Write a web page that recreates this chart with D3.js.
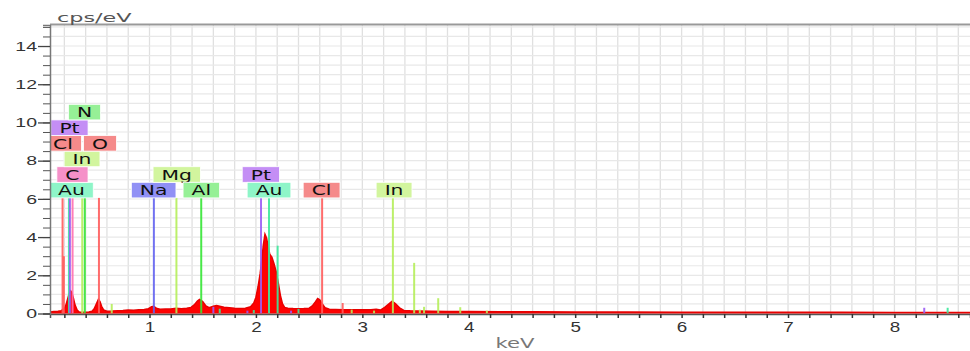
<!DOCTYPE html>
<html>
<head>
<meta charset="utf-8">
<script src="https://cdn.jsdelivr.net/npm/d3@7"></script>
<style>
  body { margin: 0; background: #fff; }
  svg { display: block; font-family: "DejaVu Sans", Verdana, sans-serif; }
</style>
</head>
<body>
<div id="chart"></div>
<script>
// spectrum outline (keV, cps/eV)
const energyKeV = [0.065, 0.10, 0.14, 0.17, 0.20, 0.215, 0.23, 0.245, 0.26, 0.27, 0.285, 0.30, 0.32, 0.34,
  0.37, 0.40, 0.43, 0.46, 0.48, 0.50, 0.52, 0.535, 0.55, 0.57, 0.60, 0.65, 0.70, 0.75, 0.80, 0.85, 0.90,
  0.95, 0.99, 1.02, 1.04, 1.07, 1.10, 1.15, 1.20, 1.25, 1.30, 1.35, 1.39, 1.42, 1.45, 1.47, 1.50, 1.53,
  1.56, 1.60, 1.63, 1.66, 1.70, 1.75, 1.80, 1.85, 1.90, 1.95, 1.98, 2.00, 2.02, 2.04, 2.055, 2.07, 2.085,
  2.10, 2.115, 2.13, 2.15, 2.17, 2.19, 2.21, 2.23, 2.25, 2.27, 2.30, 2.35, 2.40, 2.45, 2.50, 2.53, 2.56,
  2.58, 2.60, 2.62, 2.65, 2.69, 2.75, 2.82, 2.90, 3.00, 3.08, 3.13, 3.17, 3.21, 3.25, 3.28, 3.31, 3.35,
  3.39, 3.45, 3.55, 3.65, 3.80, 4.00, 4.30, 4.60, 5.00, 5.50, 6.00, 6.50, 7.00, 7.50, 8.00, 8.50, 8.71];
const countsCps = [0.08, 0.10, 0.12, 0.15, 0.25, 0.45, 0.75, 1.05, 1.18, 1.10, 0.80, 0.45, 0.18, 0.08,
  0.06, 0.06, 0.08, 0.12, 0.25, 0.50, 0.74, 0.62, 0.38, 0.18, 0.12, 0.13, 0.15, 0.16, 0.18, 0.17, 0.19,
  0.21, 0.25, 0.35, 0.38, 0.26, 0.22, 0.23, 0.24, 0.27, 0.25, 0.27, 0.32, 0.45, 0.65, 0.74, 0.62, 0.40,
  0.30, 0.38, 0.42, 0.38, 0.33, 0.30, 0.27, 0.26, 0.28, 0.35, 0.55, 0.85, 1.40, 2.10, 2.80, 3.60, 4.15,
  3.95, 3.50, 3.10, 2.95, 2.60, 2.20, 1.60, 0.95, 0.50, 0.32, 0.28, 0.26, 0.25, 0.26, 0.28, 0.40, 0.62,
  0.78, 0.72, 0.52, 0.30, 0.22, 0.21, 0.20, 0.20, 0.19, 0.20, 0.22, 0.18, 0.32, 0.50, 0.64, 0.52, 0.30,
  0.16, 0.14, 0.13, 0.12, 0.11, 0.10, 0.09, 0.09, 0.08, 0.08, 0.07, 0.07, 0.06, 0.06, 0.05, 0.05, 0.05];

// element marker lines
const markerKeV = [0.183, 0.195, 0.243, 0.252, 0.277, 0.368, 0.392, 0.525, 0.645, 1.041, 1.253, 1.486,
  1.60, 1.66, 1.92, 1.98, 2.048, 2.123, 2.204, 2.33, 2.40, 2.622, 2.815, 2.90, 3.11, 3.287, 3.487, 3.54,
  3.58, 3.713, 3.92, 4.17, 8.28, 8.50];
const markerTop = [6.05, 3.0, 6.05, 6.05, 6.05, 6.05, 6.05, 6.05, 0.5, 6.05, 6.05, 6.05,
  0.35, 0.25, 0.15, 0.18, 6.05, 6.05, 3.55, 0.15, 0.24, 6.05, 0.55, 0.2, 0.15, 6.05, 2.65, 0.2,
  0.35, 0.8, 0.33, 0.15, 0.3, 0.3];
const markerElement = ["Cl", "Cl", "Au", "Pt", "C", "In", "N", "O", "In", "Na", "Mg", "Al",
  "Pt", "Au", "Pt", "Au", "Pt", "Au", "Au", "Pt", "Au", "Cl", "Cl", "In", "In", "In", "In", "In",
  "In", "In", "In", "In", "Pt", "Au"];

// label boxes: element, centre (keV), stack row
const labelElement = ["Au", "C", "In", "Cl", "O", "Pt", "N", "Na", "Mg", "Al", "Pt", "Au", "Cl", "In"];
const labelKeV = [0.266, 0.276, 0.366, 0.187, 0.535, 0.248, 0.389, 1.039, 1.256, 1.487, 2.046, 2.123, 2.617, 3.298];
const labelRow = [0, 1, 2, 3, 3, 4, 5, 0, 1, 0, 1, 0, 0, 0];

const xTickLabels = [1, 2, 3, 4, 5, 6, 7, 8];
const yTickLabels = [0, 2, 4, 6, 8, 10, 12, 14];

const lineColor = { Cl: "#ff5c5c", O: "#ff5c5c", Au: "#3ee89c", Pt: "#9b5cf5", C: "#ff6fb0",
  In: "#b5ef5a", N: "#35e635", Na: "#6262f0", Mg: "#b5ef5a", Al: "#35e635" };
const boxColor = { Cl: "#f58a8a", O: "#f58a8a", Au: "#8ef5c8", Pt: "#c48ef5", C: "#f590c8",
  In: "#d2f59e", N: "#96f096", Na: "#9090f5", Mg: "#d2f59e", Al: "#96f096" };

const width = 970, height = 351;
const plotLeft = 50, plotRight = 970, plotTop = 25, plotBottom = 313.5;

const svg = d3.select("#chart").append("svg")
  .attr("width", width).attr("height", height);

const x = d3.scaleLinear().domain([0.065, 8.71]).range([plotLeft, plotRight]);
const y = d3.scaleLinear().domain([0, 15.1]).range([plotBottom, plotTop]);

svg.append("defs").append("clipPath").attr("id", "plot")
  .append("rect").attr("x", plotLeft).attr("y", plotTop)
  .attr("width", plotRight - plotLeft).attr("height", plotBottom - plotTop);

//grid
const grid = svg.append("g");
grid.selectAll(".vg").data(d3.range(0.2, 8.71, 0.2)).join("line")
  .attr("x1", d => x(d)).attr("x2", d => x(d))
  .attr("y1", plotTop).attr("y2", plotBottom)
  .attr("stroke", "#e0e0e0").attr("stroke-width", 1.3);
grid.selectAll(".hg").data(d3.range(0.5, 15.01, 0.5)).join("line")
  .attr("x1", plotLeft).attr("x2", plotRight)
  .attr("y1", d => y(d)).attr("y2", d => y(d))
  .attr("stroke", "#e8e8e8").attr("stroke-width", 1.2);

const plot = svg.append("g").attr("clip-path", "url(#plot)");

//spectrum
const spectrum = energyKeV.map((e, i) => ({ e, c: countsCps[i] }));
plot.append("path")
  .datum(spectrum)
  .attr("fill", "#ff0000")
  .attr("stroke", "#e80000")
  .attr("stroke-width", 1.5)
  .attr("d", d3.area().x(d => x(d.e)).y0(y(0)).y1(d => y(d.c)));

//marker lines
const markers = markerKeV.map((e, i) => ({ e, top: markerTop[i], el: markerElement[i] }));
plot.selectAll(".marker").data(markers).join("line")
  .attr("x1", d => x(d.e)).attr("x2", d => x(d.e))
  .attr("y1", d => y(d.top)).attr("y2", y(0))
  .attr("stroke", d => lineColor[d.el])
  .attr("stroke-width", 2)
  .attr("opacity", 0.9);

//label boxes
const rowH = 15.6;
const textScale = 1.4;
const labels = labelElement.map((el, i) => ({ el, e: labelKeV[i], row: labelRow[i] }));
const lg = plot.selectAll(".lab").data(labels).join("g")
  .attr("transform", d => `translate(${x(d.e)},${y(6.05) - (d.row + 1) * rowH})`);
lg.append("rect").attr("class", "box");
lg.append("text")
  .attr("text-anchor", "middle")
  .attr("transform", `translate(0,${rowH / 2 + 5.2}) scale(${textScale},1)`)
  .attr("font-size", 14.5)
  .attr("fill", "#111")
  .text(d => d.el);
lg.each(function() {
  const g = d3.select(this);
  const w = g.select("text").node().getComputedTextLength() * textScale + 17;
  g.select("rect")
    .attr("x", -w / 2).attr("y", 0).attr("width", w).attr("height", rowH)
    .attr("fill", d => boxColor[d.el])
    .attr("stroke", "#fff").attr("stroke-width", 0.8);
});

//frame
svg.append("line").attr("x1", plotLeft).attr("x2", plotRight)
  .attr("y1", plotTop - 0.5).attr("y2", plotTop - 0.5)
  .attr("stroke", "#999").attr("stroke-width", 2);

//x axis
const xAxis = svg.append("g").attr("transform", `translate(0,${plotBottom + 0.5})`)
  .call(d3.axisBottom(x).tickValues(d3.range(0.2, 8.71, 0.2)).tickSize(4)
    .tickFormat(d => xTickLabels.includes(Math.round(d * 10) / 10) ? d3.format("d")(d) : ""));
xAxis.select(".domain").attr("stroke", "#555").attr("stroke-width", 1.5);
xAxis.selectAll(".tick line").attr("stroke", "#333").attr("stroke-width", 1.5);
xAxis.selectAll("text")
  .attr("font-size", 14.5).attr("fill", "#333")
  .attr("y", 8)
  .attr("transform", "scale(1.3,1)");

//y axis minor + major
const yMinor = svg.append("g").attr("transform", `translate(${plotLeft},0)`)
  .call(d3.axisLeft(y).tickValues(d3.range(0, 15.01, 0.5)).tickSize(7).tickFormat(""));
yMinor.select(".domain").attr("stroke", "#777").attr("stroke-width", 1.5);
yMinor.selectAll(".tick line").attr("stroke", "#555");
const yMajor = svg.append("g").attr("transform", `translate(${plotLeft},0)`)
  .call(d3.axisLeft(y).tickValues(yTickLabels).tickSize(12));
yMajor.select(".domain").remove();
yMajor.selectAll(".tick line").attr("stroke", "#444").attr("stroke-width", 1.3);
yMajor.selectAll("text")
  .attr("font-size", 13).attr("fill", "#333")
  .attr("x", -13 / 1.5)
  .attr("transform", "scale(1.5,1)");

//axis titles
svg.append("text")
  .attr("transform", "translate(57,22) scale(1.72,1)")
  .attr("font-size", 13).attr("fill", "#555")
  .text("cps/eV");
svg.append("text")
  .attr("transform", "translate(515,348) scale(1.57,1)")
  .attr("text-anchor", "middle")
  .attr("font-size", 13.5).attr("fill", "#777")
  .text("keV");
</script>
</body>
</html>
